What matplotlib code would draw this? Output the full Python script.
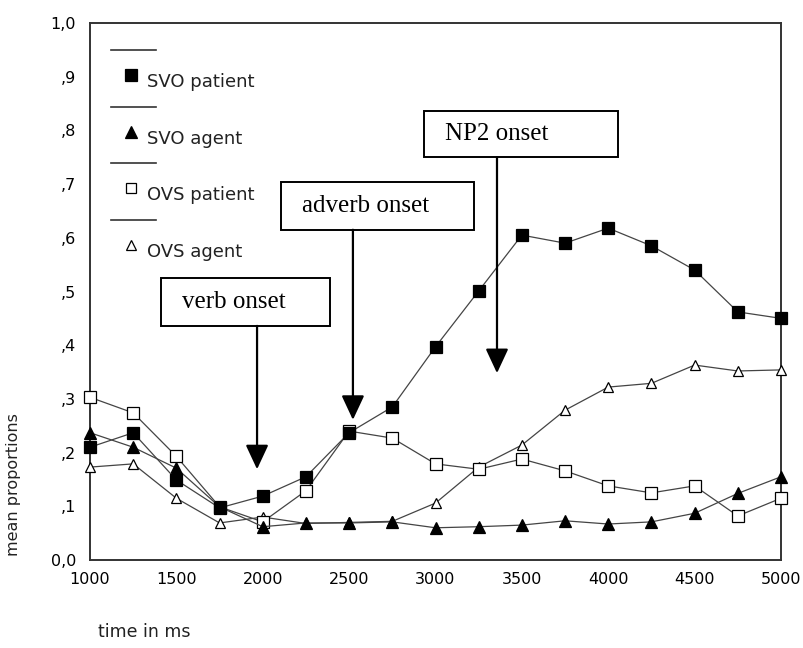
import matplotlib.pyplot as plt
from matplotlib.patches import Rectangle

# time points (ms) and mean proportions
times = [1000, 1250, 1500, 1750, 2000, 2250, 2500, 2750, 3000,
         3250, 3500, 3750, 4000, 4250, 4500, 4750, 5000]
svo_patient = [0.210, 0.237, 0.149, 0.097, 0.119, 0.155, 0.237, 0.285, 0.397,
               0.501, 0.605, 0.590, 0.618, 0.585, 0.540, 0.462, 0.450]
svo_agent = [0.237, 0.210, 0.171, 0.099, 0.062, 0.069, 0.069, 0.071, 0.060,
             0.062, 0.065, 0.073, 0.067, 0.071, 0.087, 0.124, 0.155]
ovs_patient = [0.303, 0.274, 0.193, 0.099, 0.071, 0.129, 0.240, 0.227, 0.179,
               0.169, 0.188, 0.166, 0.138, 0.125, 0.138, 0.082, 0.115]
ovs_agent = [0.173, 0.179, 0.115, 0.069, 0.080, 0.068, 0.070, 0.072, 0.106,
             0.173, 0.214, 0.279, 0.322, 0.329, 0.363, 0.352, 0.354]

series_names = ['SVO patient', 'SVO agent', 'OVS patient', 'OVS agent']

yticks = [0.0, 0.1, 0.2, 0.3, 0.4, 0.5, 0.6, 0.7, 0.8, 0.9, 1.0]
ytick_labels = ['0,0', ',1', ',2', ',3', ',4', ',5', ',6', ',7', ',8', ',9', '1,0']
xticks = [1000, 1500, 2000, 2500, 3000, 3500, 4000, 4500, 5000]

# onset annotations: label, arrow x (ms), arrow tip y, box (x0, x1, y0, y1)
onsets = [
    ('verb onset', 1967, 0.169, (1411, 2389, 0.436, 0.525)),
    ('adverb onset', 2522, 0.261, (2106, 3223, 0.615, 0.704)),
    ('NP2 onset', 3356, 0.348, (2933, 4056, 0.750, 0.836)),
]

styles = {
    'SVO patient': dict(marker='s', ms=9, mfc='black'),
    'SVO agent': dict(marker='^', ms=9, mfc='black'),
    'OVS patient': dict(marker='s', ms=8.5, mfc='white'),
    'OVS agent': dict(marker='^', ms=7.5, mfc='white'),
}
data = {'SVO patient': svo_patient, 'SVO agent': svo_agent,
        'OVS patient': ovs_patient, 'OVS agent': ovs_agent}

fig = plt.figure(figsize=(8.04, 6.48), dpi=100)
ax = fig.add_axes([90 / 804, 1 - 560 / 648, 691 / 804, 537 / 648])

for name in ['OVS agent', 'OVS patient', 'SVO agent', 'SVO patient']:
    st = styles[name]
    ax.plot(times, data[name], color='#444444', lw=0.9, marker=st['marker'],
            ms=st['ms'], mfc=st['mfc'], mec='black', mew=0.9, clip_on=False,
            zorder=3)

ax.set_xlim(1000, 5000)
ax.set_ylim(0, 1.0)
ax.set_xticks(xticks)
ax.set_xticklabels([str(t) for t in xticks], fontsize=11.5)
ax.set_yticks(yticks)
ax.set_yticklabels(ytick_labels, fontsize=11.5)
ax.tick_params(length=0, pad=10)
ax.tick_params(axis='x', pad=9)
for sp in ax.spines.values():
    sp.set_color('#333333')
    sp.set_linewidth(1.4)

# legend drawn by hand: a short line above each marker, label beside it
for i, name in enumerate(series_names):
    st = styles[name]
    ly = 0.950 - i * 0.1055
    ax.plot([0.030, 0.0955], [ly, ly], transform=ax.transAxes,
            color='#333333', lw=1.2)
    ax.plot([0.059], [ly - 0.047], transform=ax.transAxes, ls='none',
            marker=st['marker'], ms=st['ms'] - 1, mfc=st['mfc'], mec='black',
            mew=0.9)
    ax.text(0.0825, ly - 0.060, name, transform=ax.transAxes, fontsize=13,
            va='center', ha='left', color='#222222')

# onset boxes with arrows
for label, ax_x, tip, (bx0, bx1, by0, by1) in onsets:
    ax.add_patch(Rectangle((bx0, by0), bx1 - bx0, by1 - by0, fill=True,
                           facecolor='white', edgecolor='black', lw=1.4,
                           zorder=4))
    ax.text(bx0 + 120, (by0 + by1) / 2, label, fontsize=18,
            family='Liberation Serif', va='center', ha='left', zorder=5)
    ax.annotate('', xy=(ax_x, tip), xytext=(ax_x, by0),
                arrowprops=dict(arrowstyle='-|>,head_length=0.75,head_width=0.35',
                                mutation_scale=20, lw=1.6, color='black',
                                shrinkA=0, shrinkB=0), zorder=4)

fig.text(14 / 804, 1 - 485 / 648, 'mean proportions', rotation=90,
         fontsize=11.5, va='center', ha='center', color='#222222')
fig.text(98 / 804, 1 - 632 / 648, 'time in ms', fontsize=12.5,
         va='center', ha='left', color='#222222')

fig.savefig('out.png', dpi=100)
